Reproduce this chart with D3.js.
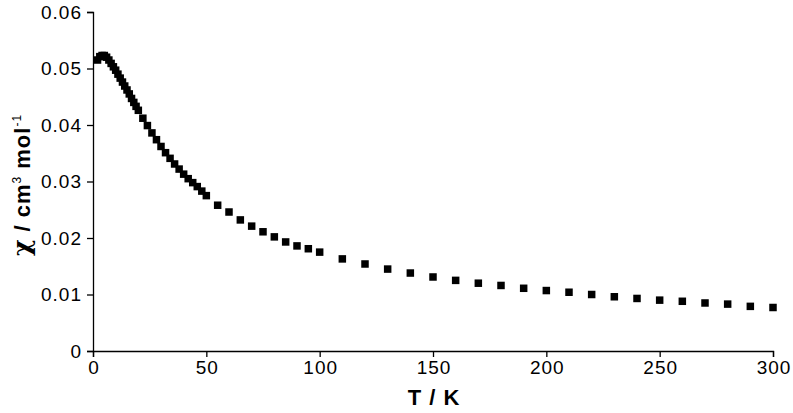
<!DOCTYPE html>
<html lang="en">
<head>
  <meta charset="UTF-8">
  <title>chi vs T</title>
  <script src="https://d3js.org/d3.v7.min.js"></script>
  <style>
    body { margin: 0; background: #fff; }
    svg { display: block; }
    .axis path, .axis line { stroke: #000; stroke-width: 1.3; }
    .axis text {
      font-family: "Liberation Sans", Arial, sans-serif;
      font-size: 19px;
      letter-spacing: 1px;
      fill: #000;
    }
    .label {
      font-family: "Liberation Sans", Arial, sans-serif;
      font-weight: bold;
      font-size: 22px;
      letter-spacing: 1px;
      fill: #000;
    }
  </style>
</head>
<body>
  <div id="chart"></div>
  <script>
    // temperature (K) and susceptibility (cm3/mol)
    const temps = [
      2, 3, 4, 5, 6, 7, 8, 9, 10, 11, 12, 13, 14, 15, 16, 17, 18, 19, 20,
      22, 24, 26, 28, 30, 32, 34, 36, 38, 40, 42, 44, 46, 48, 50,
      55, 60, 65, 70, 75, 80, 85, 90, 95, 100,
      110, 120, 130, 140, 150, 160, 170, 180, 190, 200,
      210, 220, 230, 240, 250, 260, 270, 280, 290, 300
    ];
    const chi = [
      0.0515, 0.0521, 0.0523, 0.0523, 0.0520, 0.0515, 0.0509, 0.0503, 0.0497, 0.0490,
      0.0483, 0.0476, 0.0469, 0.0462, 0.0455, 0.0447, 0.0440, 0.0433, 0.0426,
      0.0412, 0.0399, 0.0386, 0.0374, 0.0362, 0.0351, 0.0341, 0.0331, 0.0322, 0.0313,
      0.0305, 0.0298, 0.0291, 0.0283, 0.0275,
      0.0258, 0.0246, 0.0232, 0.0221, 0.0211, 0.0202, 0.0193, 0.0186, 0.0181, 0.0175,
      0.0163, 0.0154, 0.0145, 0.0138, 0.0131, 0.0125, 0.0120, 0.0116, 0.0111, 0.0107,
      0.0104, 0.0100, 0.0096, 0.0093, 0.0090, 0.0088, 0.0085, 0.0083, 0.0079, 0.0077
    ];
    const xTicks = [0, 50, 100, 150, 200, 250, 300];
    const yTicks = [0, 0.01, 0.02, 0.03, 0.04, 0.05, 0.06];
    const yTickLabels = ['0', '0.01', '0.02', '0.03', '0.04', '0.05', '0.06'];

    const W = 793, H = 413;
    const margin = { top: 12, right: 20, bottom: 62, left: 93 };

    const svg = d3.select('#chart').append('svg')
      .attr('width', W)
      .attr('height', H);

    const x = d3.scaleLinear().domain([0, 300]).range([margin.left, W - margin.right]);
    const y = d3.scaleLinear().domain([0, 0.06]).range([H - margin.bottom, margin.top]);

    // axes
    svg.append('g')
      .attr('class', 'axis')
      .attr('transform', `translate(0, ${H - margin.bottom})`)
      .call(d3.axisBottom(x).tickValues(xTicks).tickSizeOuter(0).tickSize(6).tickPadding(4))
      .call((g) => g.selectAll('text').attr('dx', '0.5px'));

    svg.append('g')
      .attr('class', 'axis')
      .attr('transform', `translate(${margin.left}, 0)`)
      .call(d3.axisLeft(y).tickValues(yTicks).tickSizeOuter(0).tickSize(6).tickPadding(5)
        .tickFormat((d, i) => yTickLabels[i]));

    // points
    const s = 7.5;
    svg.append('g')
      .selectAll('rect')
      .data(temps.map((t, i) => ({ t, v: chi[i] })))
      .join('rect')
      .attr('x', (d) => x(d.t) - s / 2)
      .attr('y', (d) => y(d.v) - s / 2)
      .attr('width', s)
      .attr('height', s)
      .attr('fill', '#000');

    // labels
    svg.append('text')
      .attr('class', 'label')
      .attr('x', (margin.left + W - margin.right) / 2 + 1)
      .attr('y', 405)
      .attr('text-anchor', 'middle')
      .text('T / K');

    const yl = svg.append('text')
      .attr('class', 'label')
      .attr('text-anchor', 'middle')
      .attr('transform', 'translate(30, 185) rotate(-90)');
    yl.append('tspan').style('font-family', '"DejaVu Serif", serif').style('font-size', '25px').text('χ');
    yl.append('tspan').text(' / cm');
    yl.append('tspan').attr('dy', -9).style('font-size', '12px').style('font-weight', 'normal').text('3');
    yl.append('tspan').attr('dy', 9).text(' mol');
    yl.append('tspan').attr('dy', -9).style('font-size', '12px').style('font-weight', 'normal').text('-1');
  </script>
</body>
</html>
